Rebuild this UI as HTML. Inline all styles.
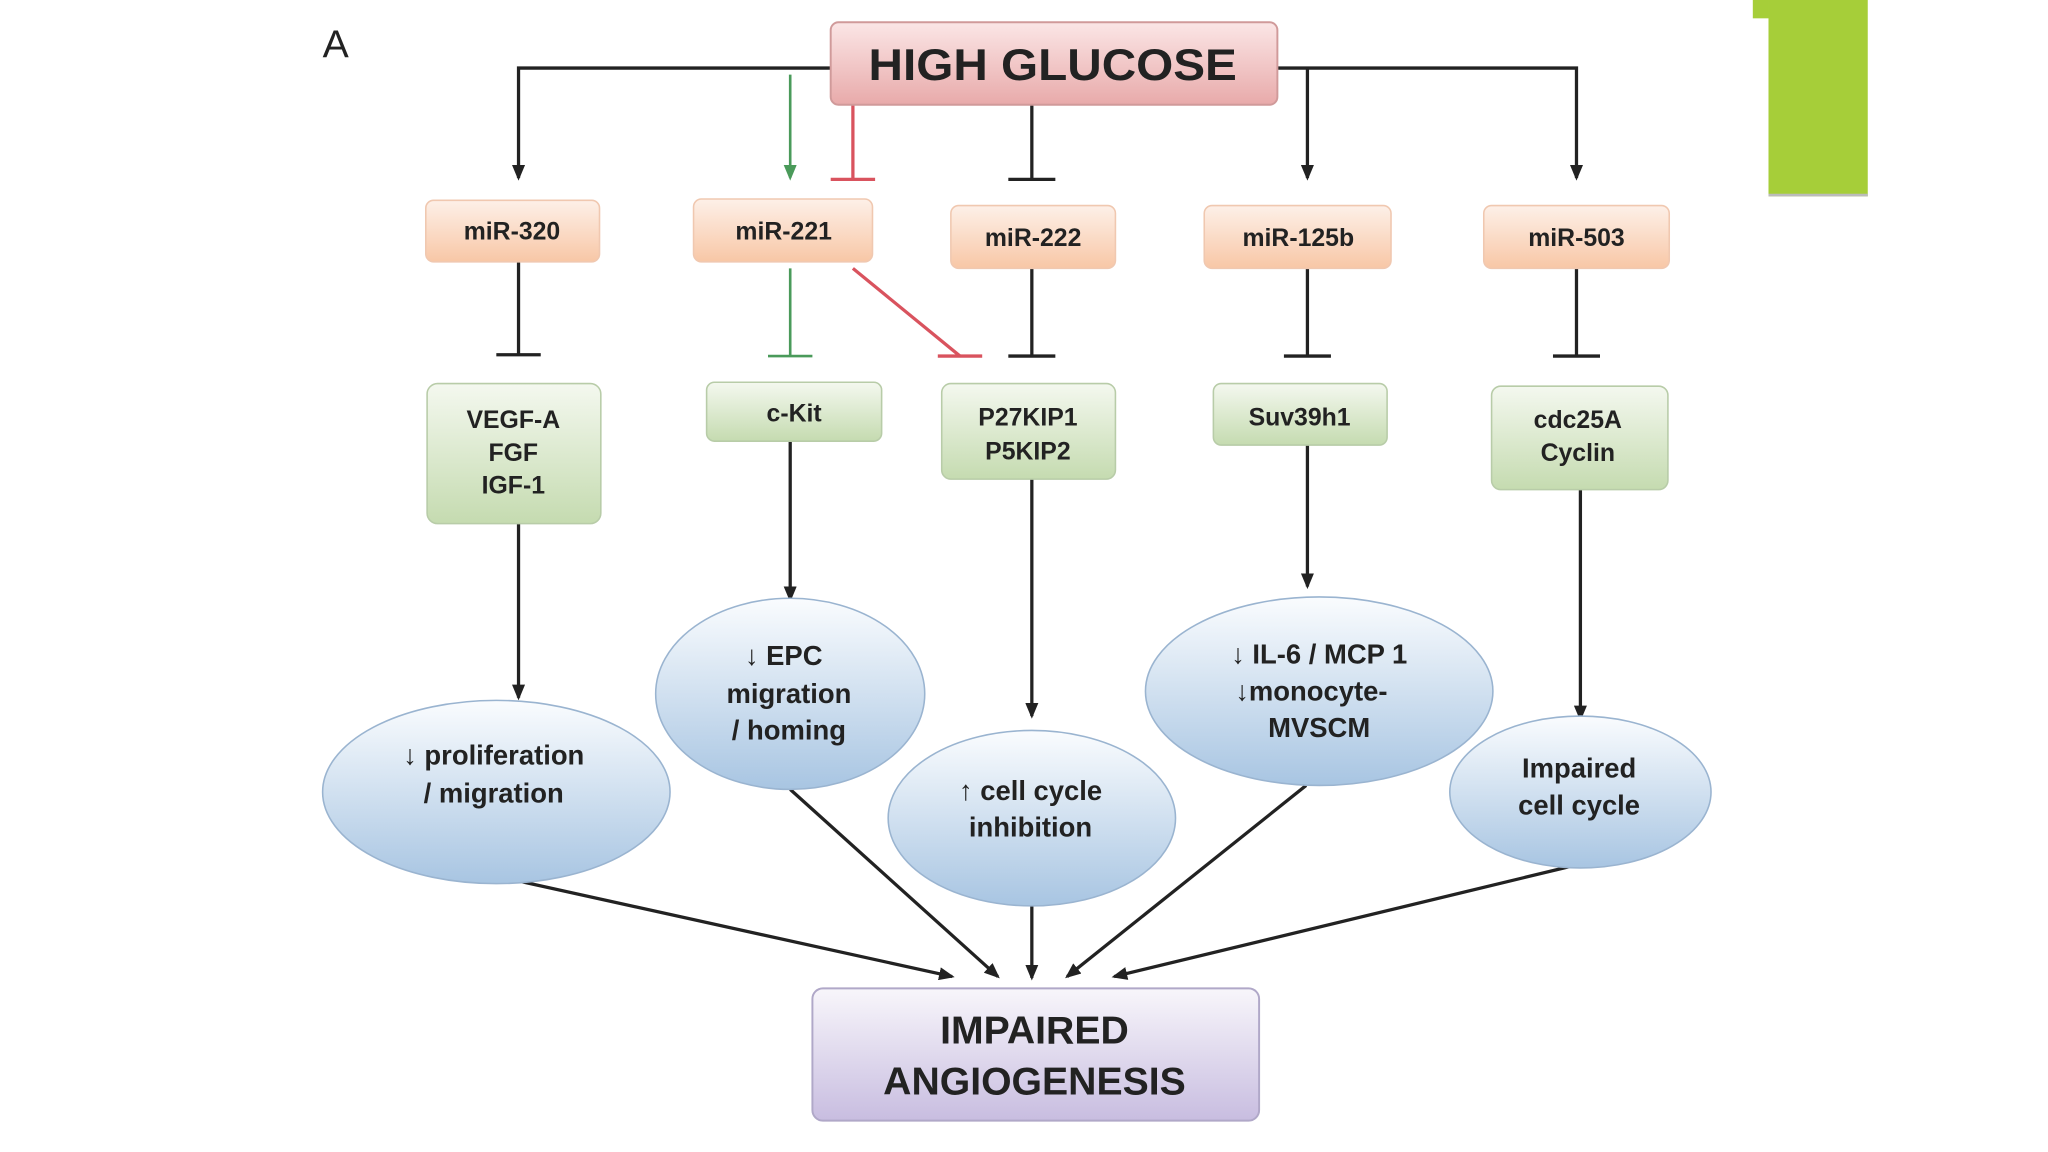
<!DOCTYPE html>
<html><head><meta charset="utf-8"><style>
html,body{margin:0;padding:0;background:#fff;}
svg{display:block;}
text{font-family:"Liberation Sans",Arial,sans-serif;font-weight:bold;fill:#222;text-anchor:middle;}
</style></head><body>
<svg width="2048" height="1152" viewBox="0 0 1568 880" preserveAspectRatio="none" xmlns="http://www.w3.org/2000/svg">
<defs>
<linearGradient id="pk" x1="0" y1="0" x2="0" y2="1"><stop offset="0" stop-color="#fbe6e6"/><stop offset="1" stop-color="#e8aaaa"/></linearGradient>
<linearGradient id="or" x1="0" y1="0" x2="0" y2="1"><stop offset="0" stop-color="#fdf0e8"/><stop offset="1" stop-color="#f8c7a6"/></linearGradient>
<linearGradient id="gr" x1="0" y1="0" x2="0" y2="1"><stop offset="0" stop-color="#f4f8ef"/><stop offset="1" stop-color="#c5dbb0"/></linearGradient>
<linearGradient id="bl" x1="0" y1="0" x2="0" y2="1"><stop offset="0" stop-color="#fafcfe"/><stop offset="1" stop-color="#a8c5e2"/></linearGradient>
<linearGradient id="pu" x1="0" y1="0" x2="0" y2="1"><stop offset="0" stop-color="#f8f6fb"/><stop offset="1" stop-color="#c8bde0"/></linearGradient>
<marker id="ab" markerWidth="12" markerHeight="10" refX="10" refY="5" orient="auto" markerUnits="userSpaceOnUse"><path d="M0,0 L12,5 L0,10 z" fill="#222"/></marker>
<marker id="ag" markerWidth="12" markerHeight="10" refX="10" refY="5" orient="auto" markerUnits="userSpaceOnUse"><path d="M0,0 L12,5 L0,10 z" fill="#4a9a5a"/></marker>
</defs>
<rect x="1342" y="0" width="12" height="14" fill="#a6ce39"/>
<rect x="1354" y="0" width="76" height="150" fill="#a6ce39"/>
<line x1="1354" y1="149" x2="1430" y2="149" stroke="#bbb" stroke-width="2"/>
<text x="257" y="44" font-size="30" style="font-weight:normal">A</text>

<g stroke="#222" stroke-width="2.5" fill="none">
<polyline points="636,52 397,52 397,136" marker-end="url(#ab)"/>
<polyline points="978,52 1207,52 1207,136" marker-end="url(#ab)"/>
<line x1="1001" y1="52" x2="1001" y2="136" marker-end="url(#ab)"/>
<line x1="790" y1="80" x2="790" y2="137"/><line x1="772" y1="137" x2="808" y2="137"/>
<line x1="397" y1="200" x2="397" y2="270"/><line x1="380" y1="271" x2="414" y2="271"/>
<line x1="790" y1="205" x2="790" y2="272"/><line x1="772" y1="272" x2="808" y2="272"/>
<line x1="1001" y1="205" x2="1001" y2="272"/><line x1="983" y1="272" x2="1019" y2="272"/>
<line x1="1207" y1="205" x2="1207" y2="272"/><line x1="1189" y1="272" x2="1225" y2="272"/>
<line x1="397" y1="400" x2="397" y2="533" marker-end="url(#ab)"/>
<line x1="605" y1="337" x2="605" y2="458" marker-end="url(#ab)"/>
<line x1="790" y1="366" x2="790" y2="547" marker-end="url(#ab)"/>
<line x1="1001" y1="340" x2="1001" y2="448" marker-end="url(#ab)"/>
<line x1="1210" y1="374" x2="1210" y2="549" marker-end="url(#ab)"/>
<line x1="397" y1="673" x2="729" y2="746" marker-end="url(#ab)"/>
<line x1="605" y1="603" x2="764" y2="746" marker-end="url(#ab)"/>
<line x1="790" y1="690" x2="790" y2="747" marker-end="url(#ab)"/>
<line x1="1000" y1="600" x2="817" y2="746" marker-end="url(#ab)"/>
<line x1="1210" y1="660" x2="853" y2="746" marker-end="url(#ab)"/>
</g>
<g stroke="#4a9a5a" stroke-width="2" fill="none">
<line x1="605" y1="57" x2="605" y2="136" marker-end="url(#ag)"/>
<line x1="605" y1="205" x2="605" y2="272"/><line x1="588" y1="272" x2="622" y2="272"/>
</g>
<g stroke="#d9535e" stroke-width="2.5" fill="none">
<line x1="653" y1="80" x2="653" y2="137"/><line x1="636" y1="137" x2="670" y2="137"/>
<line x1="653" y1="205" x2="735" y2="272"/><line x1="718" y1="272" x2="752" y2="272"/>
</g>

<rect x="636" y="17" width="342" height="63" rx="6" fill="url(#pk)" stroke="#d09a9a" stroke-width="1.5"/>
<text x="806" y="61" font-size="34" textLength="282" lengthAdjust="spacingAndGlyphs">HIGH GLUCOSE</text>

<g stroke="#f0c8b0" stroke-width="1.2" fill="url(#or)">
<rect x="326" y="153" width="133" height="47" rx="6"/>
<rect x="531" y="152" width="137" height="48" rx="6"/>
<rect x="728" y="157" width="126" height="48" rx="6"/>
<rect x="922" y="157" width="143" height="48" rx="6"/>
<rect x="1136" y="157" width="142" height="48" rx="6"/>
</g>
<g font-size="19">
<text x="392" y="183">miR-320</text>
<text x="600" y="183">miR-221</text>
<text x="791" y="188">miR-222</text>
<text x="994" y="188">miR-125b</text>
<text x="1207" y="188">miR-503</text>
</g>

<g stroke="#b8cca8" stroke-width="1.2" fill="url(#gr)">
<rect x="327" y="293" width="133" height="107" rx="8"/>
<rect x="541" y="292" width="134" height="45" rx="6"/>
<rect x="721" y="293" width="133" height="73" rx="7"/>
<rect x="929" y="293" width="133" height="47" rx="6"/>
<rect x="1142" y="295" width="135" height="79" rx="7"/>
</g>
<g font-size="19">
<text x="393" y="327">VEGF-A</text><text x="393" y="352">FGF</text><text x="393" y="377">IGF-1</text>
<text x="608" y="322">c-Kit</text>
<text x="787" y="325">P27KIP1</text><text x="787" y="351">P5KIP2</text>
<text x="995" y="325">Suv39h1</text>
<text x="1208" y="327">cdc25A</text><text x="1208" y="352">Cyclin</text>
</g>

<g stroke="#9ab4d0" stroke-width="1.2" fill="url(#bl)">
<ellipse cx="380" cy="605" rx="133" ry="70"/>
<ellipse cx="605" cy="530" rx="103" ry="73"/>
<ellipse cx="790" cy="625" rx="110" ry="67"/>
<ellipse cx="1010" cy="528" rx="133" ry="72"/>
<ellipse cx="1210" cy="605" rx="100" ry="58"/>
</g>
<g font-size="21">
<text x="378" y="584">↓ proliferation</text><text x="378" y="613">/ migration</text>
<text x="600" y="508">↓ EPC</text><text x="604" y="537">migration</text><text x="604" y="565">/ homing</text>
<text x="789" y="611">↑ cell cycle</text><text x="789" y="639">inhibition</text>
<text x="1010" y="507">↓ IL-6 / MCP 1</text><text x="1004" y="535">↓monocyte-</text><text x="1010" y="563">MVSCM</text>
<text x="1209" y="594">Impaired</text><text x="1209" y="622">cell cycle</text>
</g>

<rect x="622" y="755" width="342" height="101" rx="8" fill="url(#pu)" stroke="#b0a8c8" stroke-width="1.5"/>
<text x="792" y="797" font-size="30">IMPAIRED</text>
<text x="792" y="836" font-size="30">ANGIOGENESIS</text>
</svg>
</body></html>
